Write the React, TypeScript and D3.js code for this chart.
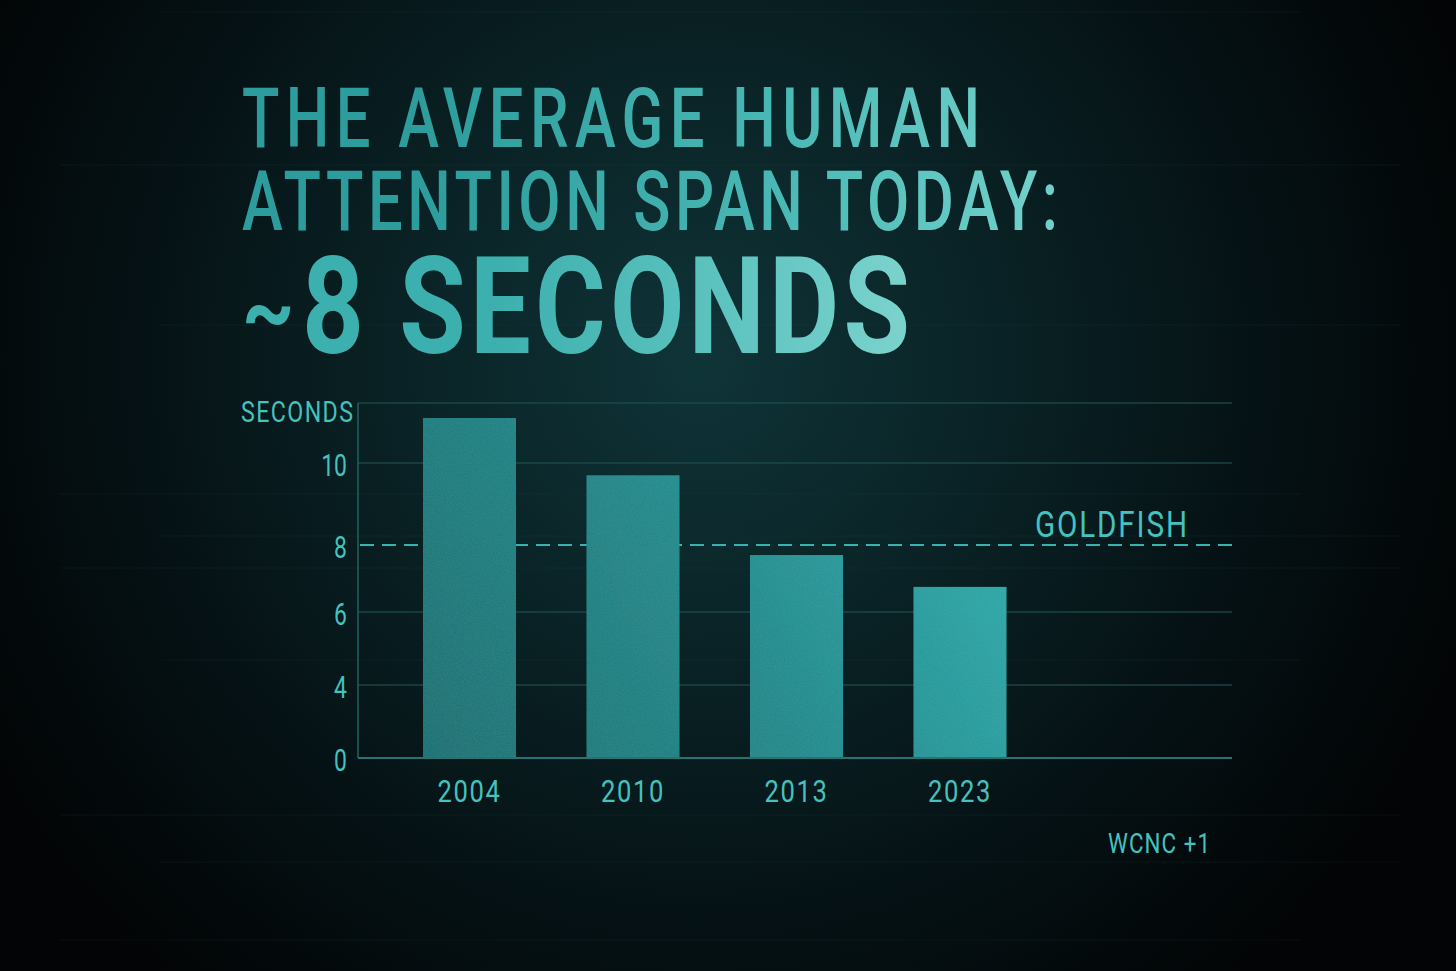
import React from "react";
import * as d3 from "d3";

const years = ["2004", "2010", "2013", "2023"];
const seconds = [11.5, 9.7, 7.7, 6.75];
const tickValues = [0, 4, 6, 8, 10];
const scaleStops = [0, 4, 6, 8, 10, 12];
const goldfishValue = 8;
const titleLines = ["THE AVERAGE HUMAN", "ATTENTION SPAN TODAY:"];
const headlineTilde = "~";
const headline = "8 SECONDS";
const axisTitle = "SECONDS";
const goldfishLabel = "GOLDFISH";
const sourceLabel = "WCNC +1";
const scanlines = [12, 165, 325, 494, 536, 568, 660, 815, 862, 940];

const W = 1456;
const H = 971;
const plotLeft = 358;
const plotRight = 1232;
const FONT = "Roboto, 'DejaVu Sans', sans-serif";

export default function App() {
  // the reference axis is drawn unevenly; a piecewise scale reproduces its tick spacing
  const y = d3
    .scaleLinear()
    .domain(scaleStops)
    .range([758, 685, 612, 545, 463, 403]);
  const x = d3
    .scaleBand<string>()
    .domain(years)
    .range([357.6, 1071.9])
    .paddingInner(0.431)
    .paddingOuter(0.4);

  const gridVals = [12, 10, 6, 4];
  const teal = "#44c2bf";
  const sx = 0.74;
  const hx = 0.8;

  return (
    <svg
      width={W}
      height={H}
      viewBox={`0 0 ${W} ${H}`}
      style={{ position: "absolute", left: 0, top: 0, display: "block" }}
    >
      <defs>
        <radialGradient id="bg" cx="700" cy="360" r="820" gradientUnits="userSpaceOnUse">
          <stop offset="0" stopColor="#0f3438" />
          <stop offset="0.35" stopColor="#0a2326" />
          <stop offset="0.7" stopColor="#051114" />
          <stop offset="1" stopColor="#020405" />
        </radialGradient>
        <linearGradient id="t12" x1="240" y1="0" x2="1060" y2="0" gradientUnits="userSpaceOnUse">
          <stop offset="0" stopColor="#2c9c9c" />
          <stop offset="0.6" stopColor="#4ab9b5" />
          <stop offset="1" stopColor="#6fcfc9" />
        </linearGradient>
        <linearGradient id="t3" x1="240" y1="0" x2="910" y2="0" gradientUnits="userSpaceOnUse">
          <stop offset="0" stopColor="#3cb0ae" />
          <stop offset="0.6" stopColor="#6ccbc6" />
          <stop offset="1" stopColor="#8fdcd5" />
        </linearGradient>
        <linearGradient id="bar" x1="420" y1="758" x2="1006" y2="420" gradientUnits="userSpaceOnUse">
          <stop offset="0" stopColor="#196a6c" />
          <stop offset="0.5" stopColor="#228688" />
          <stop offset="1" stopColor="#2fb0b0" />
        </linearGradient>
        <filter id="grain" x="0" y="0" width="100%" height="100%">
          <feTurbulence type="fractalNoise" baseFrequency="0.9" numOctaves="2" seed="3" result="n" />
          <feColorMatrix
            in="n"
            type="matrix"
            values="0 0 0 0 0.2  0 0 0 0 0.7  0 0 0 0 0.7  0 0 0 0.12 0"
            result="nc"
          />
          <feComposite in="nc" in2="SourceGraphic" operator="in" result="g" />
          <feMerge>
            <feMergeNode in="SourceGraphic" />
            <feMergeNode in="g" />
          </feMerge>
        </filter>
      </defs>

      <rect x={0} y={0} width={W} height={H} fill="url(#bg)" />

      {scanlines.map((s, i) => (
        <line
          key={"s" + i}
          x1={i % 2 ? 60 : 160}
          x2={i % 3 ? 1400 : 1300}
          y1={s}
          y2={s}
          stroke="#1e4a4d"
          strokeOpacity={0.2}
          strokeWidth={1}
        />
      ))}

      {/* title */}
      {titleLines.map((t, i) => (
        <text
          key={t}
          transform={`translate(242,${147 + i * 83}) scale(${sx},1)`}
          fill="url(#t12)"
          fontFamily={FONT}
          fontWeight={500}
          fontSize={83}
          textLength={(i === 0 ? 738 : 816) / sx}
          lengthAdjust="spacing"
        >
          {t}
        </text>
      ))}
      <text
        transform={`translate(242,342) scale(0.9,1)`}
        fill="url(#t3)"
        fontFamily={FONT}
        fontWeight={700}
        fontSize={90}
      >
        {headlineTilde}
      </text>
      <text
        transform={`translate(302,353) scale(${hx},1)`}
        fill="url(#t3)"
        fontFamily={FONT}
        fontWeight={700}
        fontSize={135}
        textLength={608 / hx}
        lengthAdjust="spacing"
      >
        {headline}
      </text>

      {/* gridlines */}
      {gridVals.map((v) => (
        <line
          key={"g" + v}
          x1={plotLeft}
          x2={plotRight}
          y1={y(v)}
          y2={y(v)}
          stroke="#1f4c4e"
          strokeWidth={1.5}
          strokeOpacity={0.85}
        />
      ))}

      {/* goldfish line */}
      <line
        x1={plotLeft + 2}
        x2={plotRight}
        y1={y(goldfishValue)}
        y2={y(goldfishValue)}
        stroke="#34b3b1"
        strokeWidth={2}
        strokeDasharray="14 8"
      />
      <text
        transform={`translate(1035,537) scale(0.8,1)`}
        fill={teal}
        fontFamily={FONT}
        fontSize={37}
        textLength={152 / 0.8}
        lengthAdjust="spacing"
      >
        {goldfishLabel}
      </text>

      {/* bars */}
      <g filter="url(#grain)">
        {years.map((yr, i) => (
          <rect
            key={yr}
            x={x(yr)}
            y={y(seconds[i])}
            width={x.bandwidth()}
            height={y(0) - 1 - y(seconds[i])}
            fill="url(#bar)"
          />
        ))}
      </g>

      {/* axes */}
      <line x1={plotLeft} x2={plotLeft} y1={y(12)} y2={y(0)} stroke="#23605f" strokeWidth={1.5} />
      <line x1={plotLeft} x2={plotRight} y1={y(0)} y2={y(0)} stroke="#2a7172" strokeWidth={2} />

      <text
        transform={`translate(241,422) scale(0.8,1)`}
        fill={teal}
        fontFamily={FONT}
        fontSize={29}
        textLength={112 / 0.8}
        lengthAdjust="spacing"
      >
        {axisTitle}
      </text>

      {tickValues.map((v) => (
        <text
          key={"t" + v}
          transform={`translate(347,${y(v) + 13}) scale(0.74,1)`}
          textAnchor="end"
          fill={teal}
          fontFamily={FONT}
          fontSize={31}
        >
          {v}
        </text>
      ))}

      {years.map((yr) => (
        <text
          key={"x" + yr}
          transform={`translate(${(x(yr) ?? 0) + x.bandwidth() / 2},802) scale(0.8,1)`}
          textAnchor="middle"
          fill={teal}
          fontFamily={FONT}
          fontSize={32}
          letterSpacing={2}
        >
          {yr}
        </text>
      ))}

      <text
        transform={`translate(1108,853) scale(0.8,1)`}
        fill={teal}
        fontFamily={FONT}
        fontSize={28}
        textLength={102 / 0.8}
        lengthAdjust="spacing"
      >
        {sourceLabel}
      </text>
    </svg>
  );
}
